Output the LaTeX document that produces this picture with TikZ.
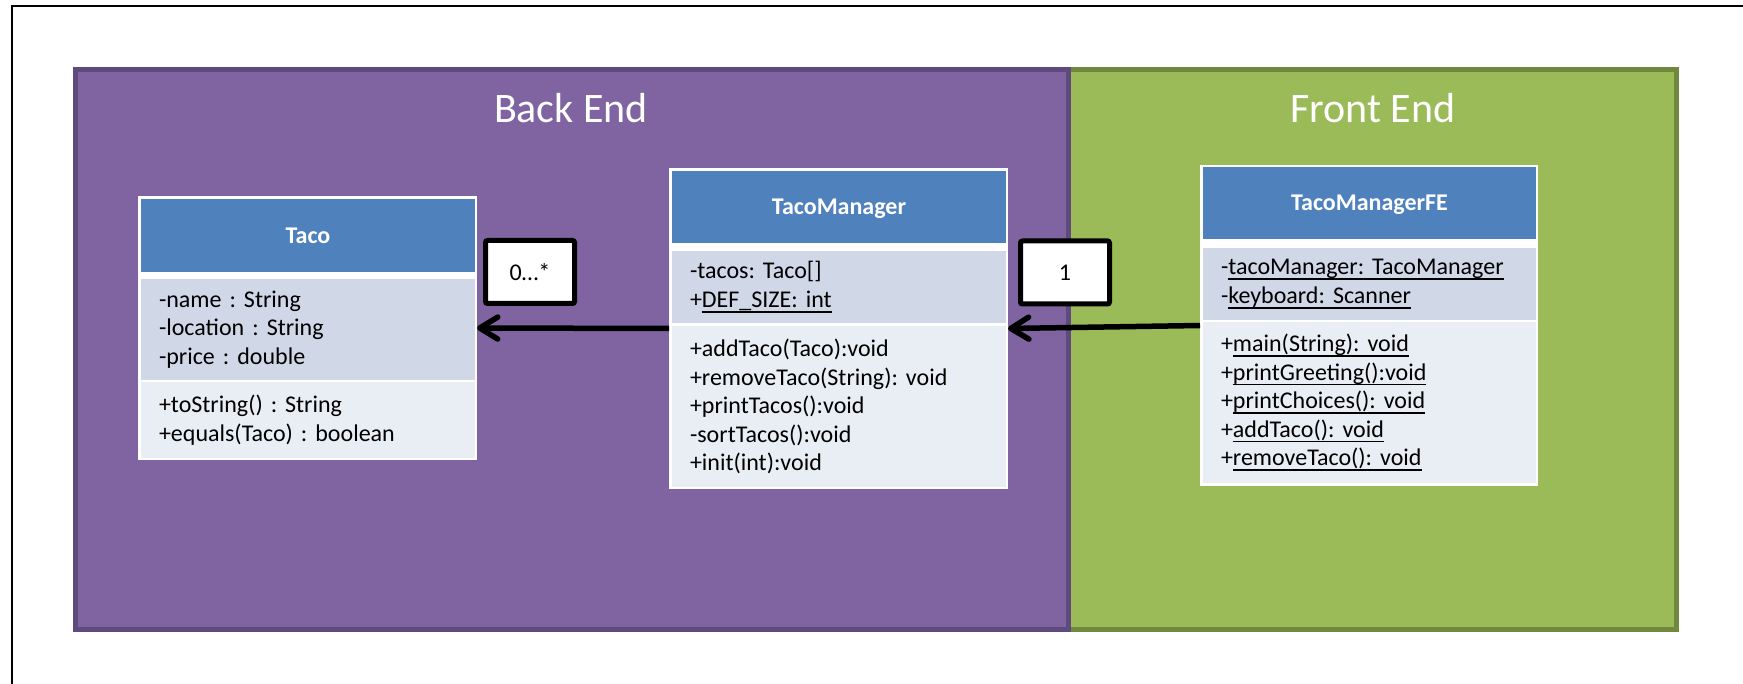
\documentclass[tikz,border=0pt]{standalone}
\usepackage{fontspec}
\setmainfont{Carlito}
\usepackage{tikz}
\usetikzlibrary{arrows.meta}
\definecolor{bepurple}{HTML}{8064A2}
\definecolor{beline}{HTML}{5E4A7C}
\definecolor{fegreen}{HTML}{9BBB59}
\definecolor{feline}{HTML}{71893F}
\definecolor{hdrblue}{HTML}{4F81BD}
\definecolor{attrfill}{HTML}{D0D8E8}
\definecolor{methfill}{HTML}{E9EDF4}
\frenchspacing
% static members are underlined
\newcommand{\stat}[1]{\setbox0\hbox{#1}\rlap{\vrule width\wd0 height -3.6pt depth 5.2pt}\box0}

\begin{document}
\begin{tikzpicture}[x=1pt,y=-1pt,
    cls/.style={fill=white,inner sep=0pt,outer sep=0pt},
    head/.style={fill=hdrblue,text=white,inner sep=0pt,outer sep=0pt,
      text height=16pt,text depth=0pt,
      font=\fontsize{24}{28.5}\bfseries\selectfont},
    attr/.style={fill=attrfill,align=left,inner xsep=18pt,inner ysep=0pt,
      outer sep=0pt,font=\fontsize{24}{28.5}\selectfont},
    meth/.style={attr,fill=methfill},
    title/.style={text=white,font=\fontsize{42}{50}\selectfont},
    mult/.style={draw=black,fill=white,line width=5pt,rounded corners=2pt,
      minimum width=89pt,minimum height=63pt,font=\fontsize{24}{28.5}\selectfont},
    assoc/.style={line width=5.5pt,-{Straight Barb[length=18pt,width=22pt,round]}}]
    \useasboundingbox (0,0) rectangle (1743,684);
    % Frame
    \draw[line width=2pt,black] (12,684) to (12,6) to (1743,6);
    % Layers
    \draw[line width=5pt,feline,fill=fegreen] (1068,69.5) rectangle (1676.5,629.5);
    \draw[line width=5pt,beline,fill=bepurple] (75.5,69.5) rectangle (1068,629.5);
    \node[title] (back) at (571,108) {Back End};
    \node[title] (front) at (1373,108) {Front End};
    % Taco
    \node[cls,minimum width=339pt,minimum height=264pt] (taco) at (307.5,328) {};
    \node[head,minimum width=334pt,minimum height=73pt] (tacohead) at (308,235.5) {Taco};
    \node[attr,text width=298pt,minimum height=101pt] (tacoattr) at (308,329.5)
      {-name : String\\-location : String\\-price : double};
    \node[meth,text width=298pt,minimum height=76pt] (tacometh) at (308,420)
      {+toString() : String\\+equals(Taco) : boolean};
    % TacoManager
    \node[cls,minimum width=339pt,minimum height=321pt] (mgr) at (838.5,328.5) {};
    \node[head,minimum width=334pt,minimum height=72pt] (mgrhead) at (839,207) {TacoManager};
    \node[attr,text width=298pt,minimum height=72pt] (mgrattr) at (839,287)
      {-tacos: Taco[]\\+\stat{DEF\_SIZE: int}};
    \node[meth,text width=298pt,minimum height=161pt] (mgrmeth) at (839,406.5)
      {+addTaco(Taco):void\\+removeTaco(String): void\\+printTacos():void\\-sortTacos():void\\+init(int):void};
    % TacoManagerFE
    \node[cls,minimum width=338pt,minimum height=321pt] (fe) at (1369,325.5) {};
    \node[head,minimum width=333pt,minimum height=72pt] (fehead) at (1369.5,203) {TacoManagerFE};
    \node[attr,text width=297pt,minimum height=72pt] (feattr) at (1369.5,284)
      {-\stat{tacoManager: TacoManager}\\-\stat{keyboard: Scanner}};
    \node[meth,text width=297pt,minimum height=161pt] (femeth) at (1369.5,402.5)
      {+\stat{main(String): void}\\+\stat{printGreeting():void}\\+\stat{printChoices(): void}\\+\stat{addTaco(): void}\\+\stat{removeTaco(): void}};
    % Associations
    \draw[assoc] (mgr.west) to (taco.east);
    \draw[assoc] (fe.west) to (mgr.east);
    \node[mult] (many) at (530,272) {0…*};
    \node[mult] (one) at (1065,272.5) {1};
\end{tikzpicture}
\end{document}
